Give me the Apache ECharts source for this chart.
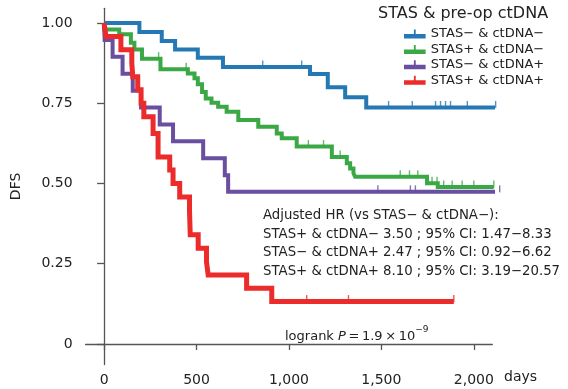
<!DOCTYPE html>
<html>
<head>
<meta charset="utf-8">
<script src="https://cdn.jsdelivr.net/npm/echarts@6/dist/echarts.min.js"></script>
<style>
html, body { margin: 0; padding: 0; background: #fff; }
#chart { width: 568px; height: 389px; }
</style>
</head>
<body>
<div id="chart"></div>
<script>
// groups
var groupNames = ['STAS− & ctDNA−', 'STAS+ & ctDNA−', 'STAS− & ctDNA+', 'STAS+ & ctDNA+'];
var groupColors = ['#2479b4', '#3aa845', '#6a4ea0', '#ec2b2b'];

// STAS- & ctDNA-  (event day, DFS after it)
var blueDays = [0, 191, 312, 384, 507, 643, 1114, 1210, 1304, 1418];
var blueDfs = [1, 0.972, 0.944, 0.918, 0.892, 0.863, 0.841, 0.800, 0.769, 0.737];
var blueEnd = 2118;
var blueCensor = [858, 1069, 1539, 1667, 1793, 1820, 1847, 1874, 1965, 2118];

// STAS+ & ctDNA-
var greenDays = [0, 2, 82, 145, 164, 205, 305, 453, 489, 507, 530, 550, 581, 617, 663, 726, 834, 934, 961, 1042, 1232, 1313, 1331, 1349, 1358, 1747, 1805];
var greenDfs = [1, 0.980, 0.965, 0.939, 0.918, 0.889, 0.856, 0.843, 0.828, 0.809, 0.785, 0.765, 0.752, 0.739, 0.724, 0.698, 0.677, 0.656, 0.641, 0.615, 0.583, 0.563, 0.547, 0.532, 0.521, 0.501, 0.489];
var greenEnd = 2108;
var greenCensor = [295, 444, 1105, 1187, 1277, 1602, 1652, 1697, 1774, 1801, 1837, 1883, 1937, 2000, 2108];

// STAS- & ctDNA+
var purpleDays = [0, 3, 46, 100, 155, 200, 301, 373, 536, 653, 671];
var purpleDfs = [1, 0.947, 0.895, 0.842, 0.789, 0.737, 0.684, 0.632, 0.579, 0.526, 0.474];
var purpleEnd = 2140;
var purpleCensor = [1481, 1657, 1684, 2140];

// STAS+ & ctDNA+
var redDays = [0, 10, 91, 150, 155, 182, 200, 215, 265, 292, 355, 373, 409, 462, 466, 509, 554, 563, 771, 907];
var redDfs = [1, 0.958, 0.917, 0.875, 0.833, 0.792, 0.750, 0.708, 0.656, 0.583, 0.542, 0.500, 0.458, 0.417, 0.340, 0.298, 0.256, 0.215, 0.174, 0.132];
var redEnd = 1892;
var redCensor = [1096, 1322, 1892];

// axes
var xTicks = [0, 500, 1000, 1500, 2000];
var yTicks = [0, 0.25, 0.5, 0.75, 1];

var groups = [
  { days: blueDays, dfs: blueDfs, end: blueEnd, censor: blueCensor, width: 4 },
  { days: greenDays, dfs: greenDfs, end: greenEnd, censor: greenCensor, width: 4 },
  { days: purpleDays, dfs: purpleDfs, end: purpleEnd, censor: purpleCensor, width: 4 },
  { days: redDays, dfs: redDfs, end: redEnd, censor: redCensor, width: 5 }
];

function dfsAt(g, t) {
  var s = g.dfs[0];
  for (var i = 0; i < g.days.length; i++) {
    if (g.days[i] <= t) s = g.dfs[i];
  }
  return s;
}

var FONT = 'DejaVu Sans';
var series = [];
groups.forEach(function (g, i) {
  var pts = g.days.map(function (d, k) { return [d, g.dfs[k]]; });
  pts.push([g.end, g.dfs[g.dfs.length - 1]]);
  series.push({
    name: groupNames[i],
    type: 'line',
    step: 'end',
    data: pts,
    showSymbol: false,
    clip: false,
    color: groupColors[i],
    lineStyle: { width: g.width, color: groupColors[i], cap: 'butt', join: 'miter' },
    z: 2 + i
  });
});
groups.forEach(function (g, i) {
  series.push({
    name: 'censor' + i,
    type: 'scatter',
    data: g.censor.map(function (t) { return [t, dfsAt(g, t)]; }),
    symbol: 'rect',
    symbolSize: [1.4, 7],
    symbolOffset: [0, -3],
    clip: false,
    itemStyle: { color: groupColors[i] },
    silent: true,
    z: 10
  });
});

var rowStyle = {
  a: { width: 120, fontFamily: FONT, fontSize: 13.3, fill: '#222' },
  b: { fontFamily: FONT, fontSize: 13.3, fill: '#222' }
};

var chart = echarts.init(document.getElementById('chart'));
chart.setOption({
  animation: false,
  backgroundColor: '#fff',
  title: {
    text: 'STAS & pre-op ctDNA',
    left: 373,
    top: 1,
    textStyle: { fontFamily: FONT, fontSize: 16, fontWeight: 'normal', color: '#222' }
  },
  legend: {
    data: groupNames,
    orient: 'vertical',
    left: 404,
    top: 27.5,
    padding: 0,
    itemGap: 2.4,
    itemWidth: 22,
    itemHeight: 9,
    icon: 'path://M0,5H24V10H0Z M11,0H13V5H11Z',
    textStyle: { fontFamily: FONT, fontSize: 13, color: '#222' }
  },
  grid: { left: 85.6, right: 75.7, top: 8.3, bottom: 24.5, containLabel: false, outerBoundsMode: 'none' },
  xAxis: {
    type: 'value',
    min: -100,
    max: 2100,
    splitLine: { show: false },
    axisLine: { show: true, lineStyle: { color: '#555', width: 1.3 } },
    axisTick: { show: true, length: 6, customValues: xTicks, lineStyle: { color: '#555', width: 1.3 } },
    axisLabel: {
      customValues: xTicks,
      margin: 9,
      fontFamily: FONT, fontSize: 14, color: '#222',
      formatter: function (v) { return v.toLocaleString('en-US'); }
    }
  },
  yAxis: {
    type: 'value',
    min: -0.064,
    max: 1.046,
    name: 'DFS',
    nameLocation: 'middle',
    nameGap: 62,
    nameTextStyle: { fontFamily: FONT, fontSize: 14, color: '#222' },
    splitLine: { show: false },
    axisLine: { show: true, lineStyle: { color: '#555', width: 1.3 } },
    axisTick: { show: true, length: 7, customValues: yTicks, lineStyle: { color: '#555', width: 1.3 } },
    axisLabel: {
      customValues: yTicks,
      margin: 13,
      fontFamily: FONT, fontSize: 14, color: '#222',
      formatter: function (v) { return v === 0 ? '0' : v.toFixed(2); }
    }
  },
  graphic: [
    {
      type: 'text', x: 504, y: 377,
      style: { text: 'days', font: '14px "DejaVu Sans"', fill: '#222', verticalAlign: 'middle' }
    },
    {
      type: 'text', x: 263, y: 216,
      style: { text: 'Adjusted HR (vs STAS− & ctDNA−):', font: '13.3px "DejaVu Sans"', fill: '#222', verticalAlign: 'middle' }
    },
    {
      type: 'text', x: 263, y: 234.5,
      style: { text: '{a|STAS+ & ctDNA−}{b|3.50 ; 95% CI: 1.47−8.33}', verticalAlign: 'middle', rich: rowStyle }
    },
    {
      type: 'text', x: 263, y: 253,
      style: { text: '{a|STAS− & ctDNA+}{b|2.47 ; 95% CI: 0.92−6.62}', verticalAlign: 'middle', rich: rowStyle }
    },
    {
      type: 'text', x: 263, y: 271.5,
      style: { text: '{a|STAS+ & ctDNA+}{b|8.10 ; 95% CI: 3.19−20.57}', verticalAlign: 'middle', rich: rowStyle }
    },
    {
      type: 'text', x: 285, y: 334,
      style: {
        text: '{a|logrank }{p|P}{a|\u2009=\u20091.9\u2009×\u200910}{s|−9}', verticalAlign: 'middle',
        rich: {
          a: { fontFamily: FONT, fontSize: 13, fill: '#222', lineHeight: 18, verticalAlign: 'bottom' },
          p: { fontFamily: FONT, fontSize: 13, fontStyle: 'italic', fill: '#222', lineHeight: 18, verticalAlign: 'bottom' },
          s: { fontFamily: FONT, fontSize: 9, fill: '#222', lineHeight: 18, verticalAlign: 'top' }
        }
      }
    }
  ],
  series: series
});
</script>
</body>
</html>
